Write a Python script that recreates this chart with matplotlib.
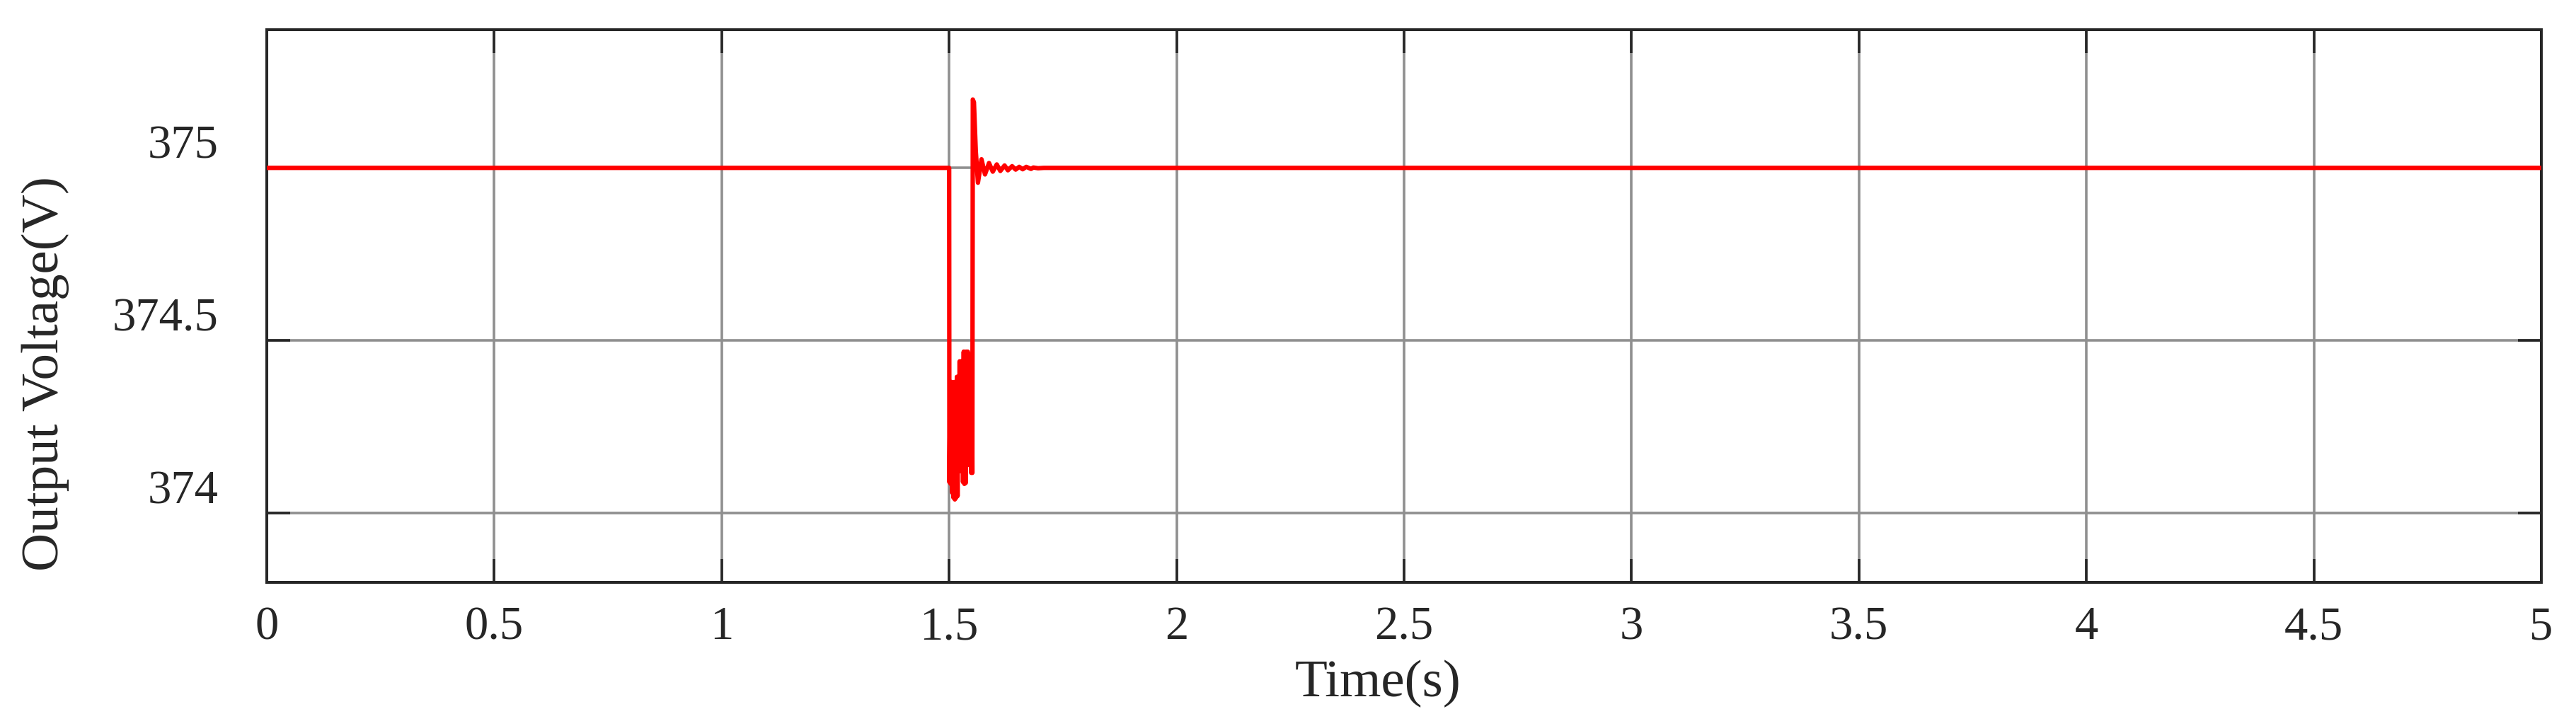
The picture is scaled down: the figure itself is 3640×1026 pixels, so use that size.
import matplotlib
matplotlib.use("Agg")
import matplotlib.pyplot as plt

# ---- data ----
time_s = [0.0, 1.5000, 1.5005, 1.5020, 1.5035, 1.5050, 1.5065, 1.5080, 1.5095,
          1.5110, 1.5125, 1.5140, 1.5155, 1.5170, 1.5185, 1.5200, 1.5215, 1.5230,
          1.5245, 1.5260, 1.5275, 1.5290, 1.5305, 1.5320, 1.5335, 1.5350, 1.5365,
          1.5380, 1.5395, 1.5410, 1.5425, 1.5440, 1.5455, 1.5470, 1.5485, 1.5500,
          1.5510, 1.5520, 1.5545, 1.5585, 1.5633, 1.5711, 1.5788, 1.5876, 1.5959,
          1.6047, 1.6125, 1.6218, 1.6291, 1.6384, 1.6462, 1.6540, 1.6617, 1.6695,
          1.6799, 1.6851, 1.6954, 1.7080, 5.0]
voltage_v = [375.000, 375.000, 374.090, 374.300, 374.085, 374.380, 374.060, 374.380,
             374.045, 374.380, 374.040, 374.313, 374.045, 374.395, 374.050, 374.395,
             374.130, 374.440, 374.122, 374.440, 374.122, 374.440, 374.090, 374.468,
             374.085, 374.468, 374.088, 374.468, 374.140, 374.468, 374.140, 374.459,
             374.140, 374.440, 374.117, 374.420, 374.117, 375.198, 375.190, 375.050,
             374.957, 375.025, 374.981, 375.014, 374.989, 375.010, 374.991, 375.007,
             374.993, 375.005, 374.995, 375.003, 374.996, 375.003, 374.997, 375.001,
             374.999, 375.000, 375.000]

x_ticks = [0, 0.5, 1, 1.5, 2, 2.5, 3, 3.5, 4, 4.5, 5]
x_tick_labels = ["0", "0.5", "1", "1.5", "2", "2.5", "3", "3.5", "4", "4.5", "5"]
y_ticks = [374, 374.5, 375]
y_tick_labels = ["374", "374.5", "375"]
x_label = "Time(s)"
y_label = "Output Voltage(V)"

# ---- style ----
plt.rcParams["font.family"] = ["Liberation Serif", "DejaVu Serif"]
dark = "#262626"
grid_c = "#8f8f8f"

fig = plt.figure(figsize=(36.4, 10.26), dpi=100)
ax = fig.add_axes([0.10357, 0.19786, 0.88297, 0.76121])

ax.plot(time_s, voltage_v, color="#ff0000", linewidth=4.5,
        solid_joinstyle="round", zorder=3)

ax.set_xlim(0, 5)
ax.set_ylim(373.8, 375.4)
ax.set_xticks(x_ticks)
ax.set_xticklabels(x_tick_labels)
ax.set_yticks(y_ticks)
ax.set_yticklabels(y_tick_labels, va="bottom")

ax.grid(True, color=grid_c, linewidth=2.6, zorder=0)
ax.set_axisbelow(True)

for sp in ax.spines.values():
    sp.set_color(dark)
    sp.set_linewidth(2.9)

ax.tick_params(axis="both", which="major", direction="in", length=24,
               width=2.6, color=dark, labelcolor=dark, labelsize=48,
               top=True, right=True)
ax.tick_params(axis="x", pad=24)
ax.tick_params(axis="y", pad=49)

ax.set_xlabel(x_label, fontsize=54, color=dark)
ax.set_ylabel(y_label, fontsize=54, color=dark)
ax.xaxis.set_label_coords(0.4885, -0.141)
ax.yaxis.set_label_coords(-0.0868, 0.378)

fig.savefig("out.png", dpi=100, facecolor="white")
